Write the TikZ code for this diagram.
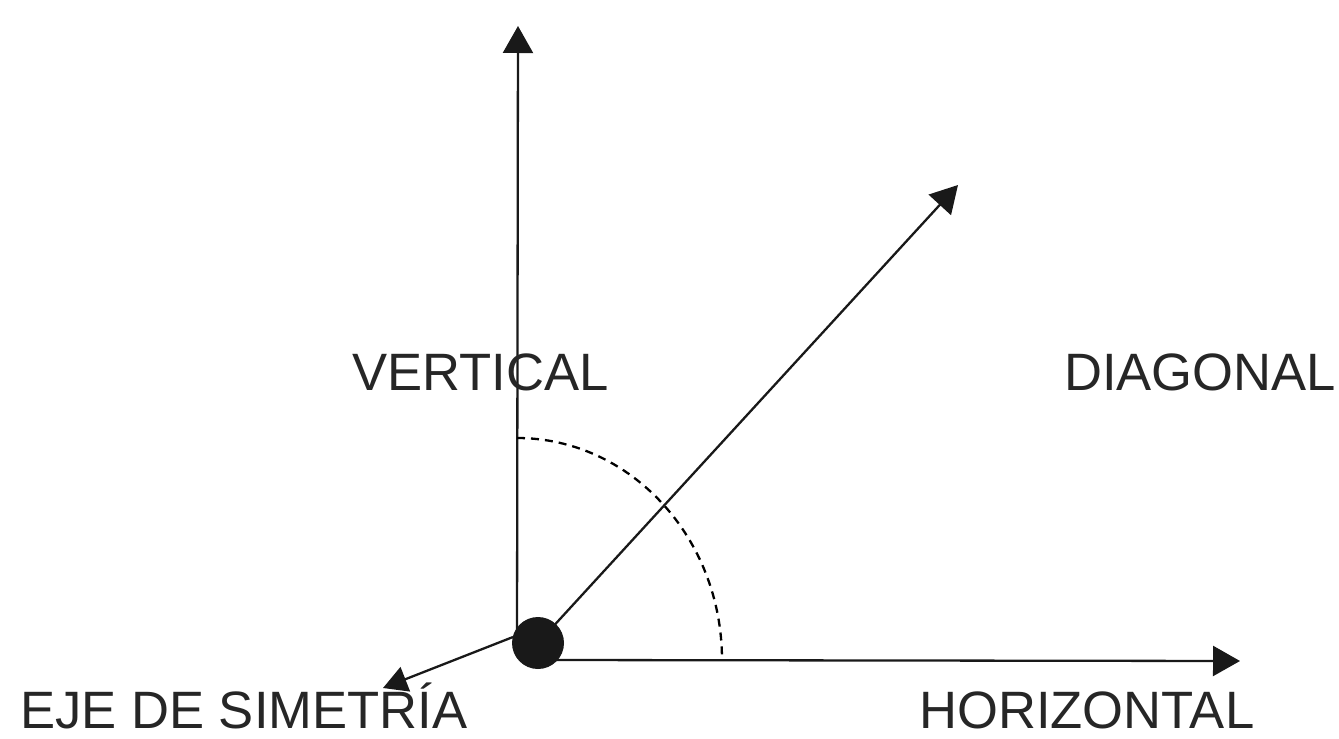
\documentclass[tikz,border=0pt]{standalone}
\usepackage{fontspec}
\setmainfont{Liberation Sans}
\usetikzlibrary{arrows.meta}
\begin{document}
\begin{tikzpicture}[x=1pt,y=-1pt,
  axis/.style={line width=2.3pt, draw=black!90, -{Triangle[length=27pt,width=30pt]}},
  lbl/.style={anchor=base west, inner sep=0pt, text depth=0pt, text=black!85, font=\fontsize{52.6}{60}\selectfont}]
\useasboundingbox (0,0) rectangle (1339,739);
\coordinate (vbase) at (517,640);
\coordinate (vtip) at (518,26);
\coordinate (htail) at (555,660);
\coordinate (htip) at (1240,661);
\coordinate (dtip) at (958,185);
\coordinate (etail) at (513,637);
\coordinate (etip) at (383,688);
\coordinate (arcstart) at (517,438);
\draw[axis] (vbase) -- (vtip);
\draw[axis] (htail) -- (htip);
\draw[axis] (538,643) -- (dtip);
\draw[axis,-{Triangle[length=24pt,width=26pt]}] (etail) -- (etip);
\draw[line width=2.3pt, dash pattern=on 8pt off 6pt] (arcstart) arc[start angle=90, end angle=0, x radius=205pt, y radius=222pt];
\node[circle, fill=black!90, minimum size=52pt, inner sep=0pt] (dot) at (538,643) {};
\node[lbl] (vert) at (352,390) {VERTICAL};
\node[lbl] (diag) at (1064,390) {DIAGONAL};
\node[lbl] (eje) at (20,728) {EJE DE SIMETRÍA};
\node[lbl] (hor) at (919,728) {HORIZONTAL};
\end{tikzpicture}
\end{document}
